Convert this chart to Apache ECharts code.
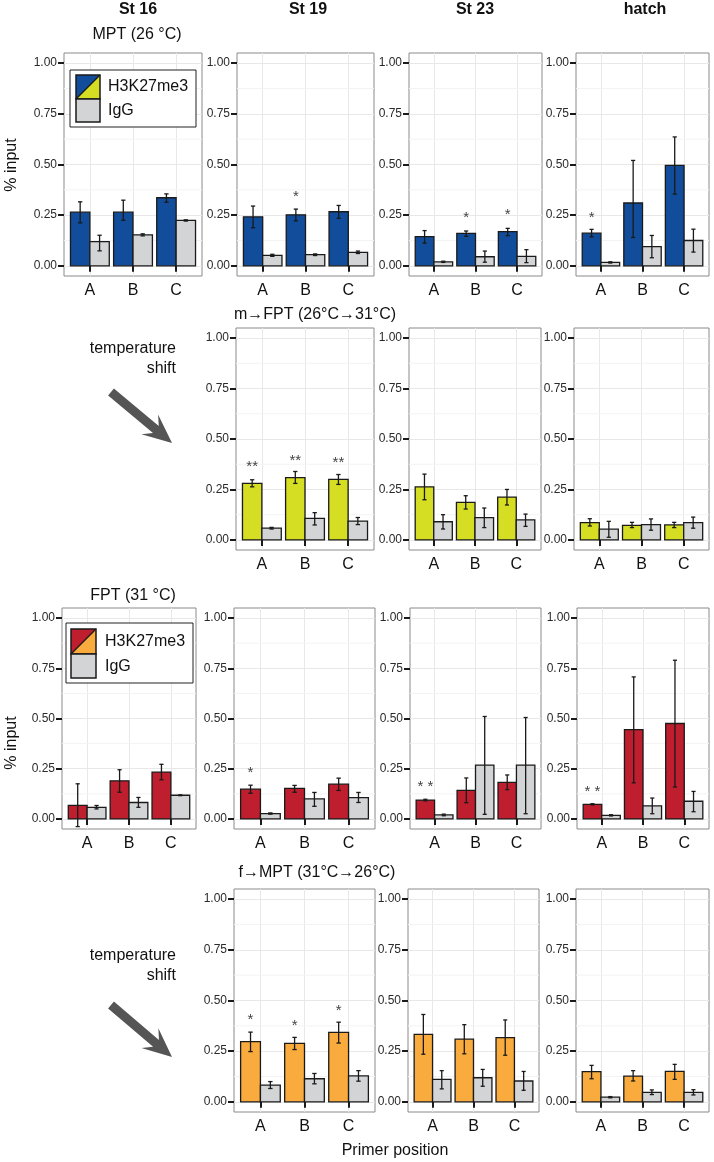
<!DOCTYPE html>
<html><head><meta charset="utf-8">
<script src="https://cdn.jsdelivr.net/npm/echarts@6/dist/echarts.min.js"></script>
<style>html,body{margin:0;padding:0;background:#fff}#c{width:714px;height:1162px}</style>
</head><body><div id="c"></div>
<script>
// ---------- data ----------
const primers = ['A', 'B', 'C'];
const stages = ['St 16', 'St 19', 'St 23', 'hatch'];
const conditions = ['MPT (26 °C)', 'm→FPT (26°C→31°C)', 'FPT (31 °C)', 'f→MPT (31°C→26°C)'];
const seriesNames = ['H3K27me3', 'IgG'];
const yTicks = [0, 0.25, 0.5, 0.75, 1];
const yMinor = [0.125, 0.375, 0.625, 0.875];
const xTicks = [1, 2, 3];

// MPT (26 °C)  — per stage [A, B, C]
const mptH3    = [[0.265,0.265,0.336],[0.242,0.252,0.267],[0.144,0.160,0.169],[0.161,0.310,0.496]];
const mptH3Lo  = [[0.212,0.225,0.314],[0.188,0.222,0.235],[0.112,0.146,0.149],[0.143,0.140,0.354]];
const mptH3Hi  = [[0.316,0.324,0.355],[0.295,0.280,0.298],[0.174,0.172,0.185],[0.180,0.520,0.636]];
const mptIgG   = [[0.120,0.153,0.224],[0.052,0.055,0.067],[0.020,0.045,0.047],[0.017,0.095,0.125]];
const mptIgGLo = [[0.074,0.148,0.221],[0.047,0.051,0.061],[0.017,0.018,0.016],[0.014,0.040,0.068]];
const mptIgGHi = [[0.151,0.158,0.227],[0.057,0.059,0.073],[0.023,0.073,0.080],[0.020,0.150,0.181]];
const mptStars = [['','',''],['','*',''],['','*','*'],['*','','']];
const mptStarY = [[0,0,0],[0,0.355,0],[0,0.253,0.265],[0.253,0,0]];

// m→FPT (26°C→31°C)
const mfH3    = [null,[0.280,0.309,0.300],[0.263,0.186,0.212],[0.086,0.072,0.074]];
const mfH3Lo  = [null,[0.263,0.280,0.275],[0.199,0.153,0.173],[0.069,0.061,0.061]];
const mfH3Hi  = [null,[0.298,0.339,0.324],[0.326,0.219,0.250],[0.105,0.087,0.087]];
const mfIgG   = [null,[0.058,0.107,0.093],[0.090,0.110,0.099],[0.053,0.076,0.086]];
const mfIgGLo = [null,[0.054,0.074,0.076],[0.054,0.061,0.067],[0.013,0.048,0.058]];
const mfIgGHi = [null,[0.062,0.135,0.111],[0.125,0.158,0.128],[0.092,0.104,0.113]];
const mfStars = [null,['**','**','**'],['','',''],['','','']];
const mfStarY = [null,[0.378,0.408,0.398],[0,0,0],[0,0,0]];

// FPT (31 °C)
const fptH3    = [[0.068,0.190,0.233],[0.148,0.152,0.173],[0.094,0.142,0.182],[0.073,0.445,0.475]];
const fptH3Lo  = [[-0.038,0.133,0.195],[0.128,0.133,0.142],[0.090,0.081,0.146],[0.070,0.180,0.159]];
const fptH3Hi  = [[0.175,0.245,0.272],[0.168,0.167,0.203],[0.098,0.204,0.219],[0.076,0.707,0.790]];
const fptIgG   = [[0.058,0.082,0.118],[0.027,0.100,0.106],[0.020,0.268,0.268],[0.018,0.065,0.088]];
const fptIgGLo = [[0.050,0.058,0.116],[0.024,0.063,0.082],[0.016,0.023,0.026],[0.015,0.026,0.036]];
const fptIgGHi = [[0.067,0.107,0.120],[0.030,0.132,0.132],[0.024,0.510,0.505],[0.021,0.104,0.137]];
const fptStars = [['','',''],['*','',''],['* *','',''],['* *','','']];
const fptStarY = [[0,0,0],[0.242,0,0],[0.177,0,0],[0.150,0,0]];

// f→MPT (31°C→26°C)
const fmH3    = [null,[0.297,0.289,0.343],[0.333,0.309,0.317],[0.149,0.127,0.150]];
const fmH3Lo  = [null,[0.248,0.258,0.290],[0.235,0.237,0.230],[0.114,0.103,0.111]];
const fmH3Hi  = [null,[0.344,0.318,0.393],[0.431,0.381,0.404],[0.180,0.154,0.185]];
const fmIgG   = [null,[0.083,0.114,0.128],[0.111,0.119,0.103],[0.023,0.047,0.047]];
const fmIgGLo = [null,[0.066,0.089,0.102],[0.064,0.077,0.057],[0.020,0.036,0.034]];
const fmIgGHi = [null,[0.100,0.140,0.154],[0.154,0.160,0.150],[0.026,0.059,0.060]];
const fmStars = [null,['*','*','*'],['','',''],['','','']];
const fmStarY = [null,[0.417,0.388,0.466],[0,0,0],[0,0,0]];

// ---------- styles / layout ----------
const FONT = '"Liberation Sans", Arial, Helvetica, sans-serif';
const INK = '#1a1a1a';
const GRAY = '#D3D4D6';
const rows = [
  {h3:mptH3, lo:mptH3Lo, hi:mptH3Hi, ig:mptIgG, igLo:mptIgGLo, igHi:mptIgGHi, stars:mptStars, starY:mptStarY, color:'#124D9C'},
  {h3:mfH3,  lo:mfH3Lo,  hi:mfH3Hi,  ig:mfIgG,  igLo:mfIgGLo,  igHi:mfIgGHi,  stars:mfStars,  starY:mfStarY,  color:'#D5DE23'},
  {h3:fptH3, lo:fptH3Lo, hi:fptH3Hi, ig:fptIgG, igLo:fptIgGLo, igHi:fptIgGHi, stars:fptStars, starY:fptStarY, color:'#BE1E2D'},
  {h3:fmH3,  lo:fmH3Lo,  hi:fmH3Hi,  ig:fmIgG,  igLo:fmIgGLo,  igHi:fmIgGHi,  stars:fmStars,  starY:fmStarY,  color:'#F9AC3D'}
];
const rowTop = [53, 328, 608, 889];
const rowH = [223, 222, 221, 223];
const cols = [
  [[64,138],[237,137],[409,133],[576,133]],
  [null,[236,138],[409,132],[574,135]],
  [[62,134],[234,141],[410,131],[577,132]],
  [null,[234,141],[408,131],[576,133]]
];

const grids = [], xAxes = [], yAxes = [], series = [];

function barRender(offset, fill) {
  return function (params, api) {
    const x = api.value(0) + offset, v = api.value(1), lo = api.value(2), hi = api.value(3);
    const a = api.coord([x - 0.225, v]), b = api.coord([x + 0.225, 0]);
    const c = api.coord([x, lo]), d = api.coord([x, hi]);
    const cw = api.size([0.1, 0])[0] / 2;
    const ls = {stroke: INK, lineWidth: 1.3};
    return {type: 'group', children: [
      {type: 'rect', shape: {x: a[0], y: a[1], width: b[0] - a[0], height: b[1] - a[1]}, style: {fill: fill, stroke: INK, lineWidth: 1.3}},
      {type: 'line', shape: {x1: c[0], y1: c[1], x2: d[0], y2: d[1]}, style: ls},
      {type: 'line', shape: {x1: c[0] - cw, y1: c[1], x2: c[0] + cw, y2: c[1]}, style: ls},
      {type: 'line', shape: {x1: d[0] - cw, y1: d[1], x2: d[0] + cw, y2: d[1]}, style: ls}
    ]};
  };
}

rows.forEach((row, r) => {
  stages.forEach((st, s) => {
    const cell = cols[r][s];
    if (!cell || !row.h3[s]) return;
    const gi = grids.length;
    grids.push({left: cell[0], top: rowTop[r], width: cell[1], height: rowH[r], show: true,
      borderColor: '#8a8a8a', borderWidth: 1, backgroundColor: '#fff', containLabel: false});
    xAxes.push({gridIndex: gi, type: 'value', min: 0.4, max: 3.6,
      axisLine: {show: false},
      axisTick: {show: true, customValues: xTicks, length: 6, lineStyle: {color: INK, width: 2}},
      axisLabel: {customValues: xTicks, formatter: v => primers[Math.round(v) - 1] || '', fontSize: 16, color: '#111', margin: 7, fontFamily: FONT},
      splitLine: {show: true, lineStyle: {color: '#e8e8e8', width: 1}}});
    yAxes.push({gridIndex: gi, type: 'value', min: -0.05, max: 1.05,
      axisLine: {show: false},
      axisTick: {show: true, customValues: yTicks, length: 6, lineStyle: {color: INK, width: 2}},
      axisLabel: {customValues: yTicks, formatter: v => v.toFixed(2), fontSize: 12, color: '#2a2a2a', margin: 7, fontFamily: FONT},
      splitLine: {show: true, lineStyle: {color: '#e8e8e8', width: 1}}});
    // minor grid lines
    series.push({type: 'custom', xAxisIndex: gi, yAxisIndex: gi, silent: true, z: 1,
      data: yMinor.map(v => [0.4, v]),
      renderItem: (p, api) => {
        const a = api.coord([0.4, api.value(1)]), b = api.coord([3.6, api.value(1)]);
        return {type: 'line', shape: {x1: a[0], y1: a[1], x2: b[0], y2: b[1]}, style: {stroke: '#f3f3f3', lineWidth: 1}};
      }});
    series.push({type: 'custom', name: seriesNames[0], xAxisIndex: gi, yAxisIndex: gi, z: 2, clip: false,
      data: primers.map((p, i) => [i + 1, row.h3[s][i], row.lo[s][i], row.hi[s][i]]),
      encode: {x: 0, y: 1},
      renderItem: barRender(-0.225, row.color)});
    series.push({type: 'custom', name: seriesNames[1], xAxisIndex: gi, yAxisIndex: gi, z: 2, clip: false,
      data: primers.map((p, i) => [i + 1, row.ig[s][i], row.igLo[s][i], row.igHi[s][i]]),
      encode: {x: 0, y: 1},
      renderItem: barRender(0.225, GRAY)});
    const starLabels = row.stars[s];
    series.push({type: 'custom', xAxisIndex: gi, yAxisIndex: gi, z: 3, silent: true, clip: false,
      data: primers.map((p, i) => [i + 1, row.starY[s][i]]),
      renderItem: (p, api) => {
        const txt = starLabels[p.dataIndex];
        if (!txt) return null;
        const pt = api.coord([api.value(0) - 0.225, api.value(1)]);
        return {type: 'text', x: pt[0], y: pt[1] + 3, style: {text: txt, fill: '#444', font: '15px ' + FONT, textAlign: 'center', textVerticalAlign: 'middle'}};
      }});
  });
});

// ---------- decorations ----------
function T(text, x, y, opt) {
  return {type: 'text', z: 100, x: x, y: y, style: Object.assign({text: text, fill: '#111', font: '16px ' + FONT, textAlign: 'center', textVerticalAlign: 'middle'}, opt || {})};
}
function arrow(x0, y0, x1, y1) {
  const dx = x1 - x0, dy = y1 - y0, L = Math.hypot(dx, dy), ux = dx / L, uy = dy / L, nx = -uy, ny = ux;
  const sw = 4.5, hw = 13, hl = 29, nl = 21;
  const P = (s, t) => [x1 - ux * s + nx * t, y1 - uy * s + ny * t];
  return {type: 'polygon', z: 100, shape: {points: [[x0 + nx * sw, y0 + ny * sw], P(nl, sw), P(hl, hw), [x1, y1], P(hl, -hw), P(nl, -sw), [x0 - nx * sw, y0 - ny * sw]]}, style: {fill: '#555'}};
}
function legend(bx, by, bw, bh, kx, ky, ks, tx, c1, c2) {
  const k2 = ky + ks;
  return [
    {type: 'rect', z: 100, shape: {x: bx, y: by, width: bw, height: bh}, style: {fill: '#fff', stroke: '#222', lineWidth: 1}},
    {type: 'polygon', z: 101, shape: {points: [[kx, ky], [kx + ks, ky], [kx, ky + ks]]}, style: {fill: c1}},
    {type: 'polygon', z: 101, shape: {points: [[kx + ks, ky], [kx + ks, ky + ks], [kx, ky + ks]]}, style: {fill: c2}},
    {type: 'line', z: 102, shape: {x1: kx, y1: ky + ks, x2: kx + ks, y2: ky}, style: {stroke: INK, lineWidth: 1.2}},
    {type: 'rect', z: 102, shape: {x: kx, y: ky, width: ks, height: ks}, style: {fill: 'none', stroke: INK, lineWidth: 1.5}},
    {type: 'rect', z: 102, shape: {x: kx, y: k2, width: ks, height: ks - 1}, style: {fill: GRAY, stroke: INK, lineWidth: 1.5}},
    Object.assign(T(seriesNames[0], tx, ky + ks / 2, {textAlign: 'left'}), {z: 103}),
    Object.assign(T(seriesNames[1], tx, k2 + ks / 2, {textAlign: 'left'}), {z: 103})
  ];
}

const graphics = [
  T(stages[0], 138, 10, {font: 'bold 16px ' + FONT}),
  T(stages[1], 308, 10, {font: 'bold 16px ' + FONT}),
  T(stages[2], 475, 10, {font: 'bold 16px ' + FONT}),
  T(stages[3], 645, 10, {font: 'bold 16px ' + FONT}),
  T(conditions[0], 137, 35),
  T(conditions[1], 315, 315),
  T(conditions[2], 133, 596),
  T(conditions[3], 317, 873),
  {type: 'text', z: 100, x: 12, y: 165, rotation: Math.PI / 2, style: {text: '% input', fill: '#111', font: '16px ' + FONT, textAlign: 'center', textVerticalAlign: 'middle'}},
  {type: 'text', z: 100, x: 12, y: 743, rotation: Math.PI / 2, style: {text: '% input', fill: '#111', font: '16px ' + FONT, textAlign: 'center', textVerticalAlign: 'middle'}},
  T('temperature', 176, 349, {textAlign: 'right'}),
  T('shift', 176, 369, {textAlign: 'right'}),
  T('temperature', 176, 956, {textAlign: 'right'}),
  T('shift', 176, 976, {textAlign: 'right'}),
  arrow(111, 392, 172, 443),
  arrow(111, 1005, 172, 1057),
  T('Primer position', 395, 1151)
].concat(legend(70, 70, 126, 57, 76, 75, 24, 108, '#124D9C', '#D5DE23'))
 .concat(legend(66, 623, 127, 60, 71, 629, 25, 105, '#BE1E2D', '#F9AC3D'));

const chart = echarts.init(document.getElementById('c'), null, {renderer: 'canvas'});
chart.setOption({
  animation: false,
  backgroundColor: '#fff',
  textStyle: {fontFamily: FONT},
  grid: grids, xAxis: xAxes, yAxis: yAxes, series: series,
  graphic: {elements: graphics}
});
</script></body></html>
